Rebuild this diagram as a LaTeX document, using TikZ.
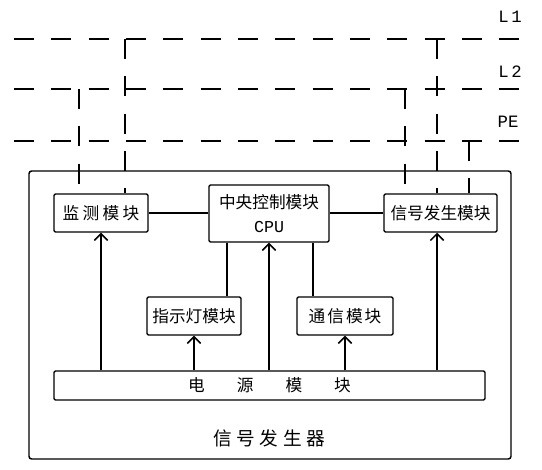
\documentclass[tikz,border=0pt]{standalone}
\usepackage{fontspec}
\newfontfamily\cjkf{Noto Sans CJK SC}
\newfontfamily\monof{Liberation Mono}
\usetikzlibrary{arrows.meta}
\begin{document}
\begin{tikzpicture}[x=0.75pt,y=-0.75pt,
  line width=1.1pt,
  box/.style={draw, rounded corners=1pt, inner sep=0pt, align=center,
    font=\cjkf\fontsize{12.5}{18}\selectfont},
  bus/.style={dash pattern=on 15pt off 13pt},
  feed/.style={-{Straight Barb[length=5pt,width=10pt,line width=1.1pt]}},
  lbl/.style={font=\monof\fontsize{13}{14}\selectfont, inner sep=0pt},
]
\useasboundingbox (0,0) rectangle (542,470);
% outer box
\node[box, minimum width=361.5pt, minimum height=216pt, rounded corners=2pt] (outer) at (270,315) {};
\node[font=\cjkf\fontsize{14}{16}\selectfont, inner sep=0pt] (title) at (269,438)
  {信\hspace{3.5pt}号\hspace{3.5pt}发\hspace{3.5pt}生\hspace{3.5pt}器};
% modules
\node[box, minimum width=70.5pt, minimum height=28.5pt] (mon) at (101,213)
  {监\hspace{2.5pt}测\hspace{2.5pt}模\hspace{2.5pt}块};
\node[box, minimum width=90pt, minimum height=42.75pt] (cpu) at (269,213.5)
  {中央控制模块\\{\monof\fontsize{12.5}{12}\selectfont CPU}};
\node[box, minimum width=84.75pt, minimum height=28.5pt] (sig) at (440.5,213)
  {信号发生模块};
\node[box, minimum width=70.5pt, minimum height=28.5pt] (ind) at (194,316)
  {指示灯模块};
\node[box, minimum width=72pt, minimum height=28.5pt] (com) at (345,316)
  {通\hspace{1.5pt}信\hspace{1.5pt}模\hspace{1.5pt}块};
\node[box, minimum width=323.25pt, minimum height=21.75pt] (pow) at (269.5,385.5)
  {电\hspace{24pt}源\hspace{24pt}模\hspace{24pt}块};
% buses
\coordinate (L1w) at (14,39);  \coordinate (L1e) at (528,39);
\coordinate (L2w) at (14,89);  \coordinate (L2e) at (528,89);
\coordinate (PEw) at (14,141); \coordinate (PEe) at (528,141);
\draw[bus] (L1w) -- (L1e);
\draw[bus] (L2w) -- (L2e);
\draw[bus] (PEw) -- (PEe);
\node[lbl] (l1lab) at (510,17) {L\kern2pt 1};
\node[lbl] (l2lab) at (510,72) {L\kern2pt 2};
\node[lbl] (pelab) at (508,122) {PE};
% bus taps
\coordinate (t1) at (125,39);
\coordinate (t2) at (79,89);
\coordinate (t3) at (405,89);
\coordinate (t4) at (437,39);
\coordinate (t5) at (469,141);
\draw[bus] (t1) -- (t1 |- mon.north);
\draw[bus] (t2) -- (t2 |- mon.north);
\draw[bus] (t3) -- (t3 |- sig.north);
\draw[bus] (t4) -- (t4 |- sig.north);
\draw[bus] (t5) -- (t5 |- sig.north);
% internal links
\draw (mon.east) -- (cpu.west |- mon.east);
\draw (cpu.east |- sig.west) -- (sig.west);
\draw ([xshift=-31.5pt]cpu.south) -- ([xshift=-31.5pt]cpu.south |- ind.north);
\draw ([xshift=33pt]cpu.south) -- ([xshift=33pt]cpu.south |- com.north);
% power feeds
\draw[feed] (pow.north -| mon.south) -- (mon.south);
\draw[feed] (pow.north -| cpu.south) -- (cpu.south);
\draw[feed] (pow.north -| ind.south) -- (ind.south);
\draw[feed] (pow.north -| com.south) -- (com.south);
\draw[feed] ([xshift=-2.6pt]pow.north -| sig.south) -- ([xshift=-2.6pt]sig.south);
\end{tikzpicture}
\end{document}
